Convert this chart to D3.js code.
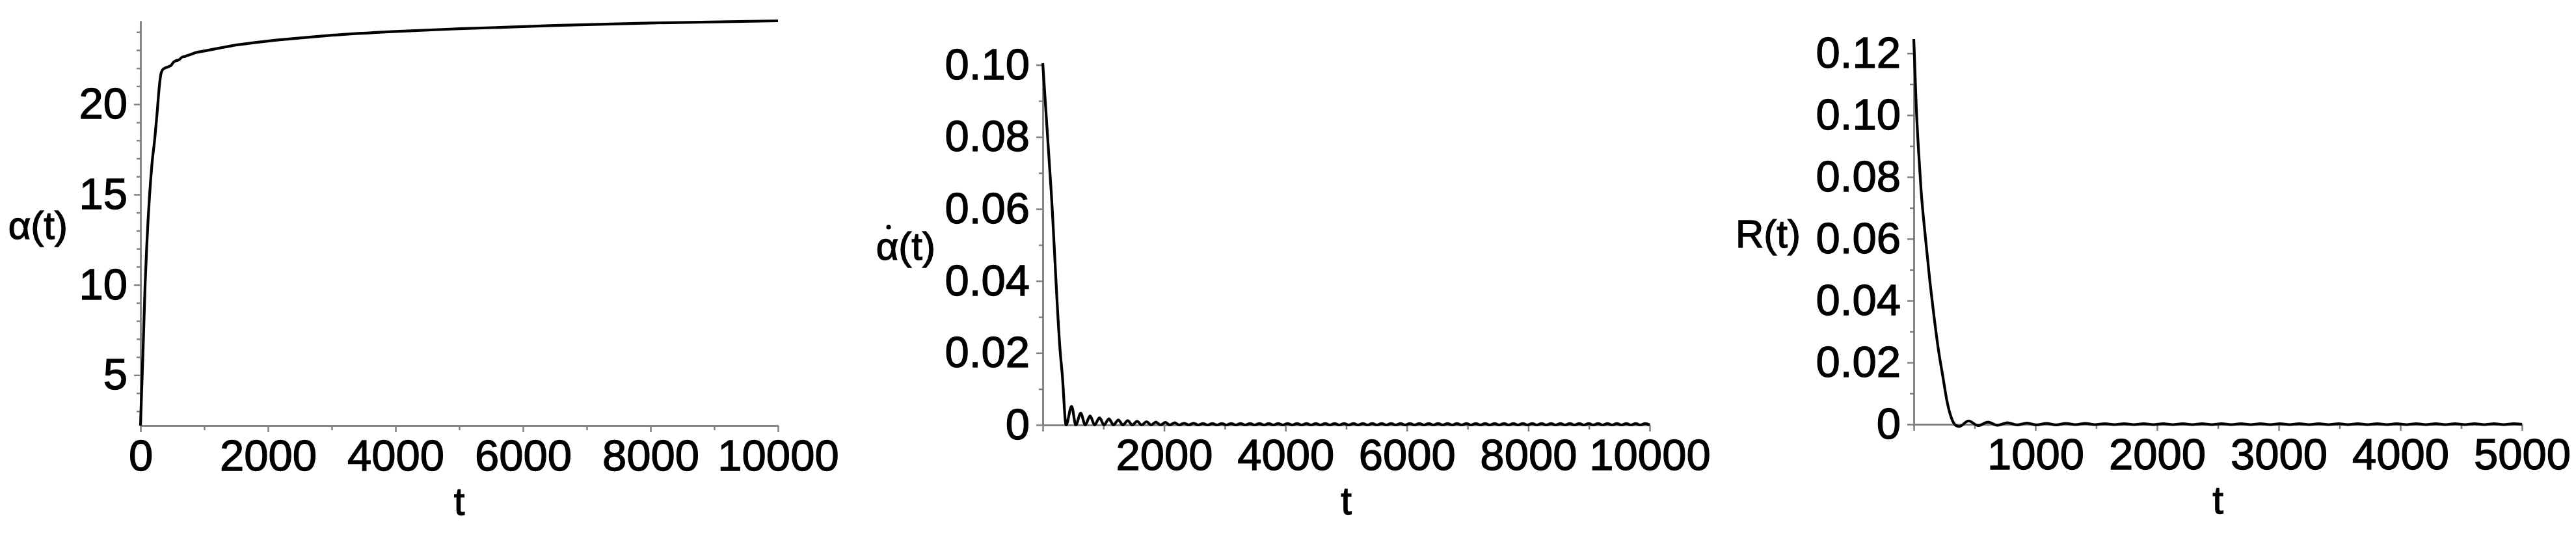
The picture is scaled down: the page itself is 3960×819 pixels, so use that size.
<!DOCTYPE html>
<html>
<head>
<meta charset="utf-8">
<script src="https://cdn.jsdelivr.net/npm/d3@7/dist/d3.min.js"></script>
<style>
  html, body { margin: 0; padding: 0; background: #ffffff; }
  svg { display: block; }
</style>
</head>
<body>
<svg id="chart" width="3960" height="819"></svg>
<script>
// ---- data ----
// panel 1: alpha(t)
const alphaT = [0, 10, 27, 50, 72, 100, 143, 180, 224, 260, 290, 316, 345, 380, 420, 450, 480, 510, 550, 600, 650, 700, 780, 860, 1000, 1250, 1500, 2000, 2500, 3000, 4000, 5000, 6500, 8000, 10000];
const alphaV = [2.2, 3.3, 5.0, 7.5, 10.0, 12.3, 15.0, 16.7, 18.1, 19.5, 20.8, 21.6, 21.9, 22.0, 22.05, 22.1, 22.15, 22.3, 22.4, 22.45, 22.6, 22.65, 22.75, 22.85, 22.95, 23.12, 23.28, 23.5, 23.67, 23.82, 24.03, 24.18, 24.36, 24.5, 24.62];

// panel 2: alpha dot (t, value)
const alphaDotPts = [
  [0, 0.1005], [143, 0.0638], [289, 0.0200], [321, 0.0141], [385, 0],
  [475, 0.0052], [545, 0], [625, 0.0033], [700, 0], [780, 0.0025], [855, 0], [935, 0.0020], [1010, 0],
  [1090, 0.0017], [1165, 0], [1245, 0.0014], [1320, 0], [1400, 0.0012], [1475, 0], [1555, 0.0010], [1630, 0],
  [1710, 0.0009], [1785, 0], [1865, 0.0008], [1940, 0], [2020, 0.0007], [2095, 0], [2175, 0.0006], [2250, 0],
  [2330, 0.0005], [2405, 0], [2485, 0.0005], [2560, 0], [2640, 0.0004], [2715, 0], [2795, 0.0004], [2870, 0],
  [2950, 0.0004], [3025, 0], [3105, 0.0004], [3180, 0], [3260, 0.0004], [3335, 0], [3415, 0.0004], [3490, 0],
  [3570, 0.0004], [3645, 0], [3725, 0.0004], [3800, 0], [3880, 0.0004], [3955, 0], [4035, 0.0004], [4110, 0],
  [4190, 0.0004], [4265, 0], [4345, 0.0004], [4420, 0], [4500, 0.0004], [4575, 0], [4655, 0.0004], [4730, 0],
  [4810, 0.0004], [4885, 0], [4965, 0.0004], [5040, 0], [5120, 0.0004], [5195, 0], [5275, 0.0004], [5350, 0],
  [5430, 0.0004], [5505, 0], [5585, 0.0004], [5660, 0], [5740, 0.0004], [5815, 0], [5895, 0.0004], [5970, 0],
  [6050, 0.0004], [6125, 0], [6205, 0.0004], [6280, 0], [6360, 0.0004], [6435, 0], [6515, 0.0004], [6590, 0],
  [6670, 0.0004], [6745, 0], [6825, 0.0004], [6900, 0], [6980, 0.0004], [7055, 0], [7135, 0.0004], [7210, 0],
  [7290, 0.0004], [7365, 0], [7445, 0.0004], [7520, 0], [7600, 0.0004], [7675, 0], [7755, 0.0004], [7830, 0],
  [7910, 0.0004], [7985, 0], [8065, 0.0004], [8140, 0], [8220, 0.0004], [8295, 0], [8375, 0.0004], [8450, 0],
  [8530, 0.0004], [8605, 0], [8685, 0.0004], [8760, 0], [8840, 0.0004], [8915, 0], [8995, 0.0004], [9070, 0],
  [9150, 0.0004], [9225, 0], [9305, 0.0004], [9380, 0], [9460, 0.0004], [9535, 0], [9615, 0.0004], [9690, 0],
  [9770, 0.0004], [9845, 0], [9925, 0.0004], [10000, 0]
];

// panel 3: R(t) (t, value)
const rPts = [
  [0, 0.1246], [20, 0.1030], [40, 0.0880], [60, 0.0757], [96, 0.0603], [133, 0.0460], [166, 0.0350],
  [203, 0.0240], [240, 0.0152], [273, 0.0075], [310, 0.0020], [347, -0.0004], [374, -0.0007],
  [450, 0.0011], [530, -0.0004], [610, 0.0007], [690, -0.0003], [770, 0.0005], [850, -0.0002], [930, 0.0004],
  [1010, -0.0002], [1090, 0.0003], [1170, -0.0002], [1250, 0.0003], [1330, -0.0001], [1410, 0.0003],
  [1490, -0.0001], [1570, 0.0002], [1650, -0.0001], [1730, 0.0002], [1810, -0.0001], [1890, 0.0002],
  [1970, -0.0001], [2050, 0.0002], [2130, -0.0001], [2210, 0.0002], [2290, -0.0001], [2370, 0.0002],
  [2450, -0.0001], [2530, 0.0002], [2610, -0.0001], [2690, 0.0002], [2770, -0.0001], [2850, 0.0002],
  [2930, -0.0001], [3010, 0.0002], [3090, -0.0001], [3170, 0.0002], [3250, -0.0001], [3330, 0.0002],
  [3410, -0.0001], [3490, 0.0002], [3570, -0.0001], [3650, 0.0002], [3730, -0.0001], [3810, 0.0002],
  [3890, -0.0001], [3970, 0.0002], [4050, -0.0001], [4130, 0.0002], [4210, -0.0001], [4290, 0.0002],
  [4370, -0.0001], [4450, 0.0002], [4530, -0.0001], [4610, 0.0002], [4690, -0.0001], [4770, 0.0002],
  [4850, -0.0001], [4930, 0.0002], [5000, 0]
];

// tick values
const xMajor1 = [0, 2000, 4000, 6000, 8000, 10000];
const xMinor1 = [1000, 3000, 5000, 7000, 9000];
const yMajor1 = [5, 10, 15, 20];
const yMinor1 = [3, 4, 6, 7, 8, 9, 11, 12, 13, 14, 16, 17, 18, 19, 21, 22, 23, 24];
const xMajor2 = [0, 2000, 4000, 6000, 8000, 10000];
const xMinor2 = [1000, 3000, 5000, 7000, 9000];
const yMajor2 = [0, 0.02, 0.04, 0.06, 0.08, 0.10];
const yMinor2 = [0.01, 0.03, 0.05, 0.07, 0.09];
const xMajor3 = [0, 1000, 2000, 3000, 4000, 5000];
const xMinor3 = [500, 1500, 2500, 3500, 4500];
const yMajor3 = [0, 0.02, 0.04, 0.06, 0.08, 0.10, 0.12];
const yMinor3 = [0.01, 0.03, 0.05, 0.07, 0.09, 0.11];

const yLabels = ['\u03b1(t)', '\u03b1(t)', 'R(t)'];
const yLabelDot = [false, true, false]; //second label is alpha with a dot (time derivative)
const xLabel = 't';

// ---- drawing ----
let svg = d3.select('#chart');
svg.append('rect').attr('width', 3960).attr('height', 819).attr('fill', '#ffffff');

const FONT = '"Liberation Sans", Arial, Helvetica, sans-serif';
const AXIS_COLOR = '#808080';

//text in the original is a bit heavier than Liberation Sans regular
function heavyText(sel) {
    sel.attr('fill', '#000000').attr('stroke', '#000000').attr('stroke-width', 1.3);
}

function styleAxis(g) {
    g.attr('font-family', FONT).attr('font-size', 67);
    g.select('.domain').attr('stroke', AXIS_COLOR).attr('stroke-width', 2.5);
    g.selectAll('.tick line').attr('stroke', AXIS_COLOR).attr('stroke-width', 2.5);
    g.selectAll('.tick text').call(heavyText);
}

function drawPanel(p) {
    let g = svg.append('g');
    let x = p.x, y = p.y;
    let axisY = y.range()[0];
    let axisX = x.range()[0];

    //x axis: minor then major ticks
    g.append('g').attr('transform', 'translate(0,' + axisY + ')')
        .call(d3.axisBottom(x).tickValues(p.xMinor).tickSize(7).tickSizeOuter(0).tickFormat(''))
        .call(styleAxis);
    g.append('g').attr('transform', 'translate(0,' + axisY + ')')
        .call(d3.axisBottom(x).tickValues(p.xMajor).tickSize(10).tickSizeOuter(0).tickPadding(11).tickFormat(p.xFmt))
        .call(styleAxis);

    //y axis
    g.append('g').attr('transform', 'translate(' + axisX + ',0)')
        .call(d3.axisLeft(y).tickValues(p.yMinor).tickSize(6).tickSizeOuter(0).tickFormat(''))
        .call(styleAxis);
    g.append('g').attr('transform', 'translate(' + axisX + ',0)')
        .call(d3.axisLeft(y).tickValues(p.yMajor).tickSize(10).tickSizeOuter(0).tickPadding(10).tickFormat(p.yFmt))
        .call(styleAxis);

    //curve
    let line = d3.line()
        .x(d => x(d[0]))
        .y(d => y(d[1]))
        .curve(d3.curveMonotoneX);
    g.append('path')
        .datum(p.points)
        .attr('d', line)
        .attr('fill', 'none')
        .attr('stroke', '#000000')
        .attr('stroke-width', 4.2)
        .attr('stroke-linejoin', 'round');

    //axis titles
    let midY = (y.range()[0] + y.range()[1]) / 2;
    let yt = g.append('text')
        .attr('x', p.labelEnd)
        .attr('y', midY + 24)
        .attr('text-anchor', 'end')
        .attr('font-family', FONT)
        .attr('font-size', 60)
        .text(p.yLabel)
        .call(heavyText);
    if (p.dot) {
        //dot over the alpha
        let node = yt.node();
        let start = node.getStartPositionOfChar(0);
        let w = node.getSubStringLength(0, 1);
        g.append('circle')
            .attr('cx', start.x + w / 2 + 2)
            .attr('cy', midY + 24 - 50)
            .attr('r', 3.6)
            .attr('fill', '#000000');
    }
    g.append('text')
        .attr('x', (x.range()[0] + x.range()[1]) / 2)
        .attr('y', axisY + 137)
        .attr('text-anchor', 'middle')
        .attr('font-family', FONT)
        .attr('font-size', 60)
        .text(xLabel)
        .call(heavyText);
}

// panel 1
let pts1 = alphaT.map((t, i) => [t, alphaV[i]]);
drawPanel({
    x: d3.scaleLinear().domain([0, d3.max(alphaT)]).range([216, 1196]),
    y: d3.scaleLinear().domain(d3.extent(alphaV)).range([654, 32]),
    points: pts1,
    xMajor: xMajor1, xMinor: xMinor1, yMajor: yMajor1, yMinor: yMinor1,
    xFmt: d => String(d),
    yFmt: d => String(d),
    yLabel: yLabels[0], dot: yLabelDot[0],
    labelEnd: 104
});

// panel 2
drawPanel({
    x: d3.scaleLinear().domain([0, 10000]).range([1603, 2536]),
    y: d3.scaleLinear().domain([0, d3.max(alphaDotPts, d => d[1])]).range([653, 97]),
    points: alphaDotPts,
    xMajor: xMajor2, xMinor: xMinor2, yMajor: yMajor2, yMinor: yMinor2,
    xFmt: d => d === 0 ? '' : String(d),
    yFmt: d => d === 0 ? '0' : d3.format('.2f')(d),
    yLabel: yLabels[1], dot: yLabelDot[1],
    labelEnd: 1438
});

// panel 3
drawPanel({
    x: d3.scaleLinear().domain([0, 5000]).range([2942, 3877]),
    y: d3.scaleLinear().domain([0, d3.max(rPts, d => d[1])]).range([652, 60]),
    points: rPts,
    xMajor: xMajor3, xMinor: xMinor3, yMajor: yMajor3, yMinor: yMinor3,
    xFmt: d => d === 0 ? '' : String(d),
    yFmt: d => d === 0 ? '0' : d3.format('.2f')(d),
    yLabel: yLabels[2], dot: yLabelDot[2],
    labelEnd: 2768
});
</script>
</body>
</html>
